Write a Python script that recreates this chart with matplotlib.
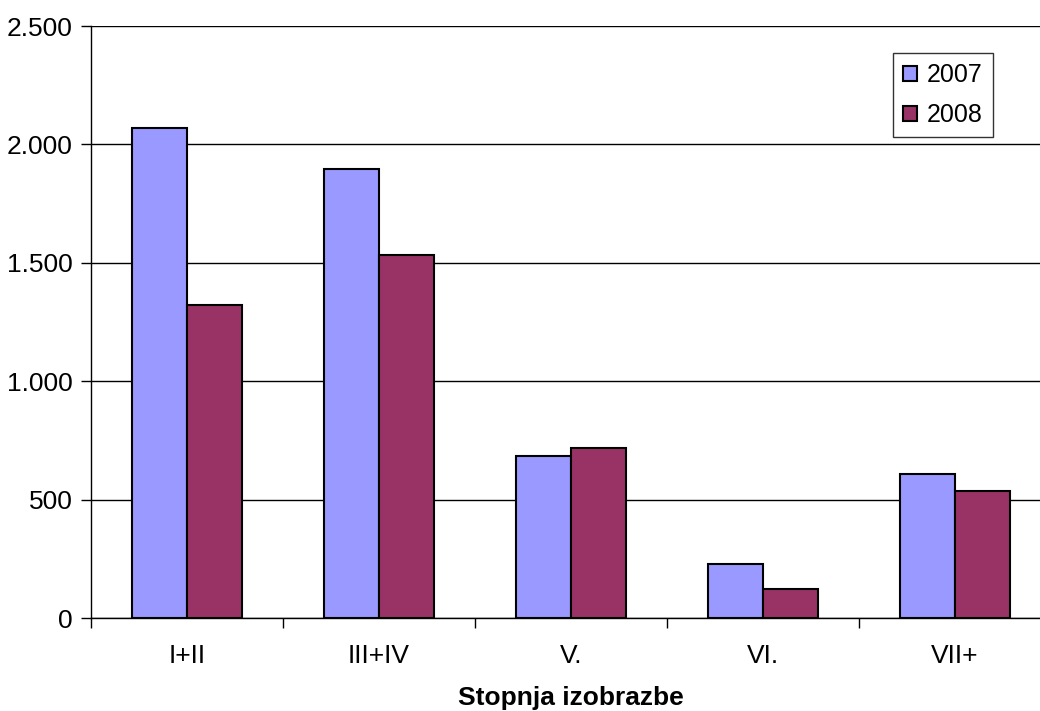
import matplotlib.pyplot as plt
import matplotlib.ticker as mticker

plt.rcParams['font.family'] = ['Liberation Sans', 'DejaVu Sans']

categories = ['I+II', 'III+IV', 'V.', 'VI.', 'VII+']
values_2007 = [2070, 1895, 683, 229, 609]
values_2008 = [1320, 1535, 717, 123, 535]

fig = plt.figure(figsize=(10.4, 7.11), dpi=100)
ax = fig.add_axes([91 / 1040, 93 / 711, 960 / 1040, 592 / 711])

x = list(range(len(categories)))
w = 0.284
ax.bar([i - w / 2 for i in x], values_2007, width=w, color='#9999FF',
       edgecolor='black', linewidth=1.5, label='2007', zorder=3)
ax.bar([i + w / 2 for i in x], values_2008, width=w, color='#993366',
       edgecolor='black', linewidth=1.5, label='2008', zorder=3)

ax.set_xlim(-0.5, len(categories) - 0.5)
ax.set_ylim(0, 2500)
ax.set_yticks(range(0, 2501, 500))
ax.yaxis.set_major_formatter(mticker.FuncFormatter(
    lambda v, p: f'{int(v):,}'.replace(',', '.')))
ax.grid(axis='y', color='black', linewidth=1, zorder=0)

ax.set_xticks(x)
ax.set_xticklabels(categories)
ax.set_xticks([i - 0.5 for i in range(len(categories) + 1)], minor=True)
ax.tick_params(axis='x', which='major', length=0, pad=19, labelsize=19)
ax.tick_params(axis='x', which='minor', length=7, width=1, direction='out')
ax.tick_params(axis='y', length=7, width=1, direction='out', pad=6, labelsize=19)

for s in ['top', 'right']:
    ax.spines[s].set_visible(False)
ax.spines['left'].set_linewidth(1)
ax.spines['bottom'].set_linewidth(1)

ax.set_xlabel('Stopnja izobrazbe', fontsize=19, fontweight='bold', labelpad=13)

leg = fig.legend(loc='upper left', bbox_to_anchor=(893 / 1040, 1 - 53 / 711),
                 fontsize=18, frameon=True, fancybox=False, shadow=False,
                 edgecolor='black', handlelength=0.55, handleheight=0.55,
                 handletextpad=0.4, borderpad=0.4, labelspacing=0.65,
                 borderaxespad=0)
leg.get_frame().set_linewidth(1)

fig.savefig('out.png', dpi=100)
